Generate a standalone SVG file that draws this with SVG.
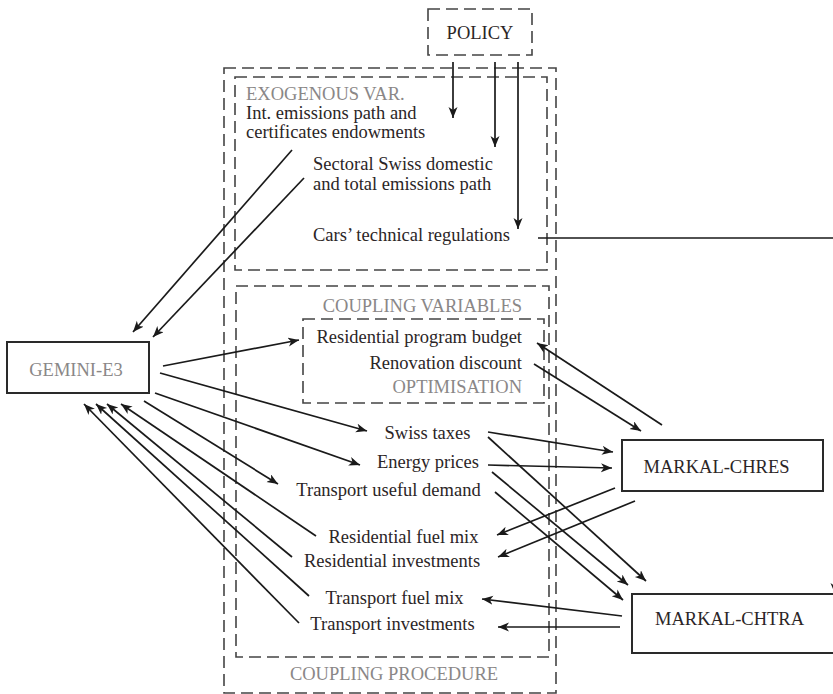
<svg xmlns="http://www.w3.org/2000/svg" width="833" height="694" viewBox="0 0 833 694">
<defs>
<marker id="arr" markerUnits="userSpaceOnUse" markerWidth="12" markerHeight="10" refX="11" refY="4.5" orient="auto">
<path d="M0,0 L11,4.5 L0,9 L3,4.5 z" fill="#1a1a1a"/>
</marker>
<style>
.t{font-family:"Liberation Serif","Times New Roman",serif;font-size:18.5px;fill:#2b2526}
.g{font-family:"Liberation Serif","Times New Roman",serif;font-size:18.5px;fill:#8a8787}
.dash{fill:none;stroke:#444;stroke-width:1.6;stroke-dasharray:12 6}
.box{fill:#fff;stroke:#2a2a2a;stroke-width:2}
.c{fill:none;stroke:#1a1a1a;stroke-width:1.7;marker-end:url(#arr)}
</style>
</defs>
<rect width="833" height="694" fill="#fff"/>

<g id="coupling-procedure">
<rect class="dash" x="224" y="68" width="332" height="625"/>
<text class="g" x="394" y="680" text-anchor="middle">COUPLING PROCEDURE</text>
</g>

<g id="exogenous">
<rect class="dash" x="235" y="77" width="312" height="193"/>
<text class="g" x="246" y="100">EXOGENOUS VAR.</text>
<text class="t" x="246" y="119">Int. emissions path and</text>
<text class="t" x="246" y="138">certificates endowments</text>
<text class="t" x="313" y="170">Sectoral Swiss domestic</text>
<text class="t" x="313" y="190">and total emissions path</text>
<text class="t" x="313" y="241">Cars’ technical regulations</text>
</g>

<g id="coupling-variables">
<rect class="dash" x="236" y="286" width="313" height="371"/>
<text class="g" x="522" y="312" text-anchor="end">COUPLING VARIABLES</text>
<text class="t" x="427.5" y="439" text-anchor="middle">Swiss taxes</text>
<text class="t" x="428" y="468" text-anchor="middle">Energy prices</text>
<text class="t" x="388.5" y="496" text-anchor="middle">Transport useful demand</text>
<text class="t" x="403.5" y="543" text-anchor="middle">Residential fuel mix</text>
<text class="t" x="392" y="567" text-anchor="middle">Residential investments</text>
<text class="t" x="394.5" y="604" text-anchor="middle">Transport fuel mix</text>
<text class="t" x="392.5" y="630" text-anchor="middle">Transport investments</text>
</g>

<g id="optimisation">
<rect class="dash" x="303" y="319" width="241" height="84"/>
<text class="t" x="522" y="343" text-anchor="end">Residential program budget</text>
<text class="t" x="522" y="369" text-anchor="end">Renovation discount</text>
<text class="g" x="522" y="393" text-anchor="end">OPTIMISATION</text>
</g>

<g id="policy">
<rect class="dash" x="428" y="9" width="104" height="46" fill="#fff"/>
<text class="t" x="480" y="39" text-anchor="middle">POLICY</text>
</g>

<g id="gemini">
<rect class="box" x="7" y="342" width="142" height="51"/>
<text class="g" x="76" y="376" text-anchor="middle">GEMINI-E3</text>
</g>

<g id="markal-chres">
<rect class="box" x="622" y="440" width="201" height="51"/>
<text class="t" x="716.5" y="473" text-anchor="middle">MARKAL-CHRES</text>
</g>

<g id="markal-chtra">
<rect class="box" x="632" y="594" width="215" height="59"/>
<text class="t" x="729.5" y="625" text-anchor="middle">MARKAL-CHTRA</text>
</g>

<g id="connectors">
<line class="c" x1="453" y1="62" x2="453" y2="118"/>
<line class="c" x1="495" y1="62" x2="495" y2="147"/>
<line class="c" x1="518" y1="62" x2="518" y2="229"/>
<polyline class="c" points="538,238 835,238 835,594"/>
<line class="c" x1="292" y1="150" x2="133" y2="332"/>
<line class="c" x1="304" y1="178" x2="153" y2="337"/>
<line class="c" x1="163" y1="366" x2="299" y2="340"/>
<line class="c" x1="160" y1="373" x2="367" y2="431"/>
<line class="c" x1="155" y1="393" x2="360" y2="465"/>
<line class="c" x1="144" y1="401" x2="278" y2="484"/>
<line class="c" x1="316" y1="536" x2="121" y2="404"/>
<line class="c" x1="292" y1="557" x2="107" y2="404"/>
<line class="c" x1="309" y1="596" x2="96" y2="404"/>
<line class="c" x1="299" y1="623" x2="84" y2="404"/>
<line class="c" x1="662" y1="425" x2="537" y2="343"/>
<line class="c" x1="534" y1="364" x2="641" y2="431"/>
<line class="c" x1="488" y1="432" x2="613" y2="452"/>
<line class="c" x1="488" y1="465" x2="612" y2="468"/>
<line class="c" x1="488" y1="437" x2="646" y2="581"/>
<line class="c" x1="492" y1="472" x2="628" y2="585"/>
<line class="c" x1="495" y1="492" x2="623" y2="600"/>
<line class="c" x1="615" y1="488" x2="497" y2="535"/>
<line class="c" x1="635" y1="501" x2="498" y2="557"/>
<line class="c" x1="622" y1="616" x2="482" y2="599"/>
<line class="c" x1="620" y1="627" x2="498" y2="627"/>
</g>
</svg>
